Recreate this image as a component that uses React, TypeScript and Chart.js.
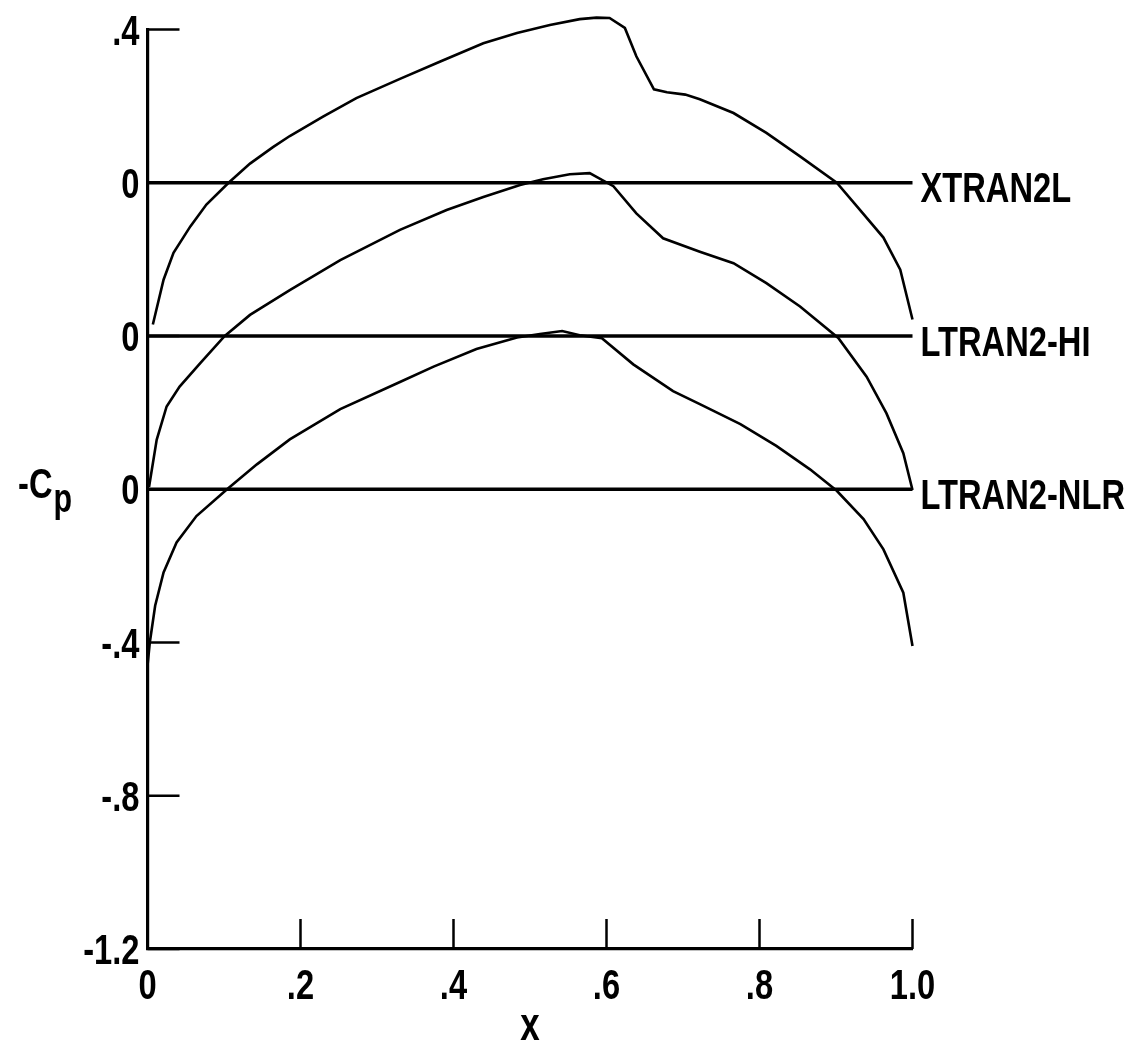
import React, { useEffect, useRef } from "react";
import { Chart, registerables } from "chart.js";

Chart.register(...registerables);

const FONT = "'Liberation Sans', Arial, sans-serif";
const FONT_SIZE = 43;
const SQUEEZE = 0.76;

// Series names, and the vertical offset at which each curve's zero line sits
const seriesNames = ["XTRAN2L", "LTRAN2-HI", "LTRAN2-NLR"];
const seriesOffsets = [0.8, 0.4, 0];

// XTRAN2L: x and -Cp
const xtran2lX = [0.007, 0.021, 0.034, 0.056, 0.077, 0.106, 0.134, 0.164, 0.186, 0.23, 0.273, 0.33, 0.382, 0.439, 0.483, 0.526, 0.565, 0.587, 0.604, 0.624, 0.639, 0.662, 0.679, 0.703, 0.722, 0.766, 0.809, 0.853, 0.901, 0.931, 0.962, 0.984, 1.0];
const xtran2lCp = [-0.37, -0.253, -0.183, -0.114, -0.057, 0, 0.05, 0.093, 0.122, 0.173, 0.221, 0.271, 0.316, 0.364, 0.391, 0.412, 0.427, 0.431, 0.43, 0.404, 0.33, 0.244, 0.236, 0.23, 0.218, 0.182, 0.13, 0.069, 0, -0.07, -0.143, -0.227, -0.357];

// LTRAN2-HI
const ltranHiX = [0.002, 0.012, 0.025, 0.042, 0.069, 0.101, 0.134, 0.186, 0.252, 0.33, 0.391, 0.439, 0.487, 0.517, 0.552, 0.578, 0.609, 0.639, 0.674, 0.722, 0.766, 0.809, 0.853, 0.903, 0.94, 0.966, 0.988, 1.0];
const ltranHiCp = [-0.394, -0.271, -0.184, -0.132, -0.071, 0, 0.055, 0.12, 0.198, 0.277, 0.329, 0.363, 0.394, 0.409, 0.422, 0.425, 0.391, 0.32, 0.255, 0.22, 0.19, 0.138, 0.077, -0.005, -0.106, -0.202, -0.306, -0.402];

// LTRAN2-NLR
const ltranNlrX = [0.0, 0.003, 0.01, 0.021, 0.038, 0.064, 0.104, 0.143, 0.186, 0.252, 0.33, 0.374, 0.43, 0.483, 0.513, 0.542, 0.565, 0.594, 0.635, 0.687, 0.722, 0.775, 0.822, 0.866, 0.901, 0.936, 0.962, 0.988, 1.0];
const ltranNlrCp = [-0.461, -0.4, -0.304, -0.217, -0.139, -0.07, 0, 0.065, 0.13, 0.209, 0.28, 0.32, 0.366, 0.396, 0.405, 0.413, 0.402, 0.394, 0.326, 0.256, 0.222, 0.17, 0.113, 0.052, -0.004, -0.078, -0.157, -0.27, -0.409];

// Axis ticks
const xTickValues = [0, 0.2, 0.4, 0.6, 0.8, 1.0];
const xTickLabels = ["0", ".2", ".4", ".6", ".8", "1.0"];
const yTickValues = [-1.2, -0.8, -0.4, 0, 0.4, 0.8, 1.2];
const yTickLabels = ["-1.2", "-.8", "-.4", "0", "0", "0", ".4"];
const xTitle = "x";
const yTitleMain = "-C";
const yTitleSub = "p";

const seriesX = [xtran2lX, ltranHiX, ltranNlrX];
const seriesCp = [xtran2lCp, ltranHiCp, ltranNlrCp];

function squeezedText(ctx: CanvasRenderingContext2D, text: string, x: number, y: number, align: CanvasTextAlign, size: number) {
  ctx.save();
  ctx.translate(x, y);
  ctx.scale(SQUEEZE, 1);
  ctx.font = `bold ${size}px ${FONT}`;
  ctx.textAlign = align;
  ctx.textBaseline = "alphabetic";
  ctx.fillText(text, 0, 0);
  const w = ctx.measureText(text).width * SQUEEZE;
  ctx.restore();
  return w;
}

const decorPlugin = {
  id: "decor",
  afterDatasetsDraw(chart: any) {
    const { ctx, chartArea, scales } = chart;
    const xs = scales.x;
    const ys = scales.y;
    ctx.save();
    ctx.strokeStyle = "#000";
    ctx.fillStyle = "#000";
    ctx.lineWidth = 2.5;
    // inward tick marks
    yTickValues.forEach((v) => {
      const py = ys.getPixelForValue(v);
      ctx.beginPath();
      ctx.moveTo(chartArea.left, py);
      ctx.lineTo(chartArea.left + 32, py);
      ctx.stroke();
    });
    xTickValues.forEach((v) => {
      const px = xs.getPixelForValue(v);
      ctx.beginPath();
      ctx.moveTo(px, chartArea.bottom);
      ctx.lineTo(px, chartArea.bottom - 30);
      ctx.stroke();
    });
    // tick labels
    yTickValues.forEach((v, i) => {
      squeezedText(ctx, yTickLabels[i], chartArea.left - 8, ys.getPixelForValue(v) + 15, "right", FONT_SIZE);
    });
    xTickValues.forEach((v, i) => {
      squeezedText(ctx, xTickLabels[i], xs.getPixelForValue(v), chartArea.bottom + 50, "center", FONT_SIZE);
    });
    // axis titles
    squeezedText(ctx, xTitle, (chartArea.left + chartArea.right) / 2, chartArea.bottom + 91, "center", 46);
    const w = squeezedText(ctx, yTitleMain, 18, 498, "left", FONT_SIZE);
    squeezedText(ctx, yTitleSub, 18 + w + 1, 512, "left", 40);
    // curve names
    seriesNames.forEach((name, i) => {
      const px = xs.getPixelForValue(1) + 8;
      const py = ys.getPixelForValue(seriesOffsets[i]) + 19.5;
      squeezedText(ctx, name, px, py, "left", FONT_SIZE);
    });
    ctx.restore();
  },
};

export default function App() {
  const canvasRef = useRef<HTMLCanvasElement | null>(null);

  useEffect(() => {
    if (!canvasRef.current) return;
    const curveSets = seriesNames.map((name, i) => ({
      label: name,
      data: seriesX[i].map((x, j) => ({ x, y: seriesCp[i][j] + seriesOffsets[i] })),
      borderColor: "#000",
      borderWidth: 2.6,
      pointRadius: 0,
      tension: 0,
      fill: false,
      clip: false as any,
    }));
    const zeroSets = seriesNames.map((name, i) => ({
      label: name + " zero",
      data: [
        { x: 0, y: seriesOffsets[i] },
        { x: 1, y: seriesOffsets[i] },
      ],
      borderColor: "#000",
      borderWidth: 3.6,
      pointRadius: 0,
      tension: 0,
      fill: false,
      clip: false as any,
    }));

    const chart = new Chart(canvasRef.current, {
      type: "line",
      data: { datasets: [...zeroSets, ...curveSets] as any },
      options: {
        animation: false,
        responsive: true,
        maintainAspectRatio: false,
        layout: { padding: { top: 29.5, right: 224.5, left: 0, bottom: 0 } },
        plugins: { legend: { display: false }, tooltip: { enabled: false } },
        scales: {
          x: {
            type: "linear",
            min: 0,
            max: 1,
            grid: { display: false, drawTicks: false },
            border: { display: true, color: "#000", width: 3.2 },
            afterBuildTicks: (s: any) => {
              s.ticks = xTickValues.map((v) => ({ value: v }));
            },
            afterFit: (s: any) => {
              s.height = 99;
            },
            ticks: { display: false },
          },
          y: {
            type: "linear",
            min: -1.2,
            max: 1.2,
            grid: { display: false, drawTicks: false },
            border: { display: true, color: "#000", width: 3.2 },
            afterBuildTicks: (s: any) => {
              s.ticks = yTickValues.map((v) => ({ value: v }));
            },
            afterFit: (s: any) => {
              s.width = 147.5;
            },
            ticks: { display: false },
          },
        },
      } as any,
      plugins: [decorPlugin],
    });
    return () => chart.destroy();
  }, []);

  return (
    <div style={{ position: "absolute", left: 0, top: 0, width: 1137, height: 1048, background: "#fff" }}>
      <canvas ref={canvasRef} />
    </div>
  );
}
